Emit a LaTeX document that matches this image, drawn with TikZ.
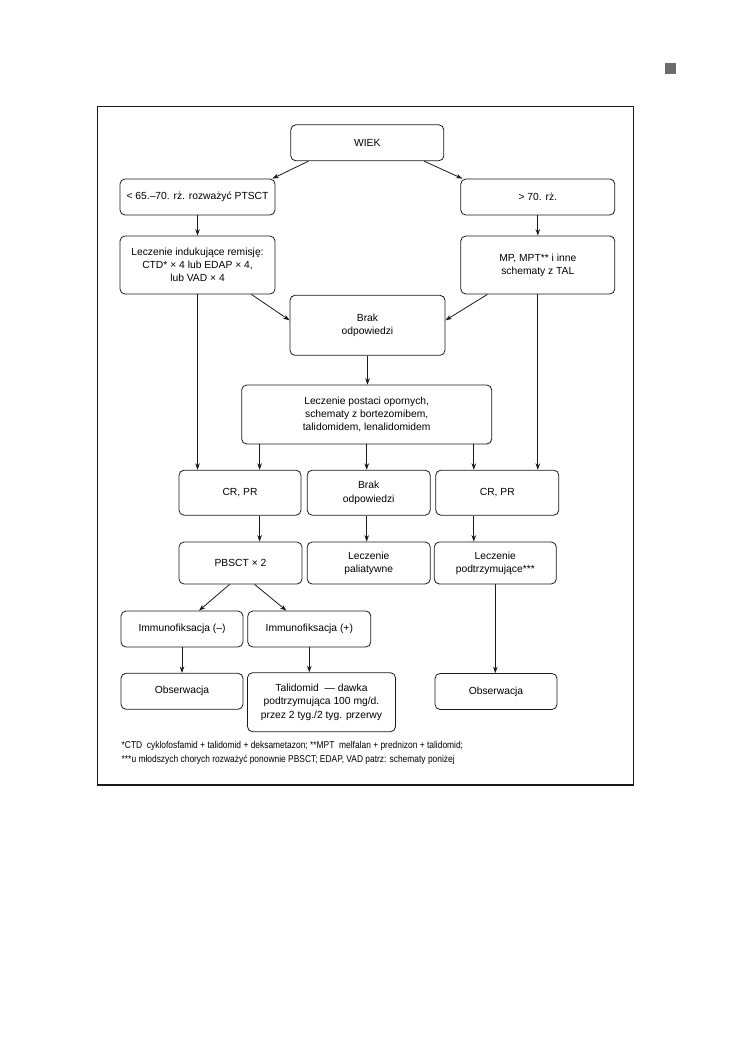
\documentclass[tikz,border=0pt]{standalone}
\usepackage{fontspec}
\setmainfont{Liberation Sans}
\newfontfamily\notefont[FakeStretch=0.85]{Liberation Sans}
\usetikzlibrary{arrows.meta,positioning,calc}
\definecolor{ink}{HTML}{1A1A1A}
\definecolor{marker}{HTML}{6B6B6B}

\begin{document}
\begin{tikzpicture}[x=1pt,y=-1pt,font=\fontsize{10.3}{13.3}\selectfont,
    stage/.style={draw=ink,line width=0.8pt,rounded corners=5pt,align=center,
      inner sep=0pt,minimum width=122pt,minimum height=36pt},
    arr/.style={draw=ink,line width=0.8pt,-{Stealth[length=6.5pt,width=4.6pt]}}]
    \useasboundingbox (0,0) rectangle (740,1055);
    \fill[marker] (665,63.3) rectangle (676,74.3);
    \draw[ink,line width=1.1pt] (97.5,106.5) rectangle (633.5,785);
    % age split
    \node[stage,minimum width=153pt] (wiek) at (367.3,142.8) {WIEK};
    \node[stage,minimum width=155pt] (young) at (197.5,197) {< 65.–70. rż. rozważyć PTSCT};
    \node[stage,minimum width=154pt] (old) at (537.8,197) {> 70. rż.};
    \node[stage,minimum width=155pt,minimum height=58pt] (induk) at (197.5,265)
      {Leczenie indukujące remisję:\\CTD* × 4 lub EDAP × 4,\\lub VAD × 4};
    \node[stage,minimum width=154pt,minimum height=58pt] (mp) at (537.8,265)
      {MP, MPT** i inne\\schematy z TAL};
    \node[stage,minimum width=155pt,minimum height=60pt] (brak1) at (367.5,325.3)
      {Brak\\odpowiedzi};
    \node[stage,minimum width=250pt,minimum height=59pt] (oporne) at (366.7,414.5)
      {Leczenie postaci opornych,\\schematy z bortezomibem,\\talidomidem, lenalidomidem};
    % responses
    \node[stage,minimum height=45pt] (crpr1) at (240,492.7) {CR, PR};
    \node[stage,minimum width=123pt,minimum height=45pt] (brak2) at (368.7,492.7)
      {Brak\\odpowiedzi};
    \node[stage,minimum width=123pt,minimum height=45pt] (crpr2) at (497.3,492.7) {CR, PR};
    \node[stage,minimum width=123pt,minimum height=42pt] (pbsct) at (240.5,563) {PBSCT × 2};
    \node[stage,minimum width=123pt,minimum height=42pt] (paliat) at (368.7,563)
      {Leczenie\\paliatywne};
    \node[stage,minimum height=42pt] (podtrz) at (495.3,563)
      {Leczenie\\podtrzymujące***};
    \node[stage] (imm1) at (182,629) {Immunofiksacja (–)};
    \node[stage,minimum width=123pt] (imm2) at (309.3,629) {Immunofiksacja (+)};
    \node[stage] (obs1) at (182,691.3) {Obserwacja};
    \node[stage,minimum width=148pt,minimum height=59pt] (talid) at (321.5,702.2)
      {Talidomid \ — dawka\\podtrzymująca 100 mg/d.\\przez 2 tyg./2 tyg. przerwy};
    \node[stage] (obs2) at (496,691.5) {Obserwacja};
    \node[anchor=north west,align=left,inner sep=0pt,font=\notefont\fontsize{9.9}{14}\selectfont]
      (note) at (121.5,741)
      {*CTD \ cyklofosfamid + talidomid + deksametazon; **MPT \ melfalan + prednizon + talidomid;\\
       ***u młodszych chorych rozważyć ponownie PBSCT; EDAP, VAD patrz: schematy poniżej};
    % connectors
    \draw[arr] ($(wiek.south west)+(18,0)$) -- ($(young.north east)+(-3,0)$);
    \draw[arr] ($(wiek.south east)+(-20,0)$) -- ($(old.north west)+(2,0)$);
    \draw[arr] (young) -- (induk);
    \draw[arr] (old) -- (mp);
    \draw[arr] ($(induk.south east)+(-24,0)$) -- ($(brak1.west)+(0,-5)$);
    \draw[arr] ($(mp.south west)+(27,0)$) -- ($(brak1.east)+(0,-5)$);
    \draw[arr] (induk.south) -- (induk.south |- crpr1.north);
    \draw[arr] (mp.south) -- (mp.south |- crpr2.north);
    \draw[arr] (brak1.south) -- (brak1.south |- oporne.north);
    \draw[arr] ($(oporne.south west)+(18.3,0)$) coordinate (o1) -- (o1 |- crpr1.north);
    \draw[arr] (oporne.south) -- (oporne.south |- brak2.north);
    \draw[arr] ($(oporne.south east)+(-18.3,0)$) coordinate (o3) -- (o3 |- crpr2.north);
    \draw[arr] (o1 |- crpr1.south) -- (o1 |- pbsct.north);
    \draw[arr] (oporne.south |- brak2.south) -- (oporne.south |- paliat.north);
    \draw[arr] (o3 |- crpr2.south) -- (o3 |- podtrz.north);
    \draw[arr] ($(pbsct.south west)+(51,0)$) -- ($(imm1.north)+(17,0)$);
    \draw[arr] ($(pbsct.south west)+(76,0)$) -- ($(imm2.north west)+(39,0)$);
    \draw[arr] (imm1) -- (obs1);
    \draw[arr] (imm2.south) -- (imm2.south |- talid.north);
    \draw[arr] (podtrz.south) -- (podtrz.south |- obs2.north);
\end{tikzpicture}
\end{document}
